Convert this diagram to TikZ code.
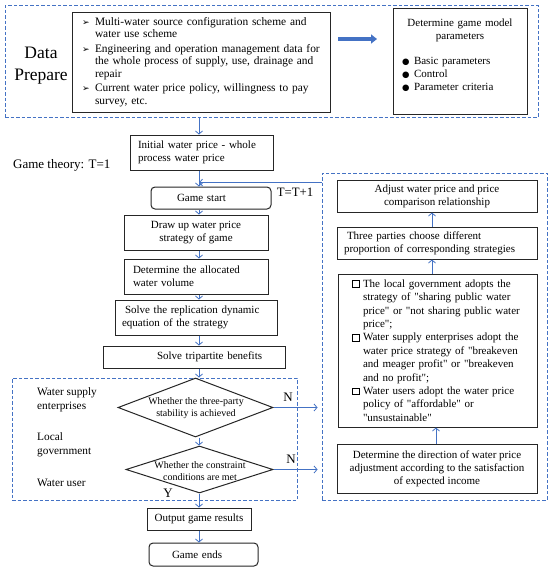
\documentclass[tikz,border=0pt]{standalone}
\usepackage{fontspec}
\setmainfont{Liberation Serif}
\newfontfamily\symf{DejaVu Sans}
\usetikzlibrary{shapes.geometric,arrows.meta,calc}
\definecolor{bl}{HTML}{4472C4}
\newcommand\dq{\XeTeXglyph\XeTeXcharglyph"22\relax}
\newcommand\mkarr{\makebox[13pt][l]{\symf\fontsize{9}{8}\selectfont ➢}}
\newcommand\mkdot{\makebox[12pt][l]{\symf\fontsize{8.5}{8}\selectfont ●}}
\newcommand\mksq{\makebox[11pt][l]{\setlength\fboxrule{1.1pt}\setlength\fboxsep{0pt}\raisebox{0.3pt}{\fbox{\rule{0pt}{5.5pt}\hspace{5.5pt}}}}}
\begin{document}
\begin{tikzpicture}[x=1pt,y=-1pt,
  font=\fontsize{11}{13}\selectfont,
  box/.style={draw=black!85, line width=1pt, rectangle, inner sep=0pt},
  rbox/.style={box, rounded corners=4pt},
  dbox/.style={draw=bl, line width=0.9pt, dash pattern=on 3.5pt off 2pt, rectangle, inner sep=0pt},
  dia/.style={draw=black!85, line width=1pt, diamond, inner sep=0pt},
  arr/.style={draw=bl, line width=0.8pt, -{Straight Barb[length=3pt,width=7pt]}},
  lbl/.style={inner sep=0pt, align=left, font=\fontsize{11.3}{14}\selectfont}
]
\useasboundingbox (0,0) rectangle (550,571);
\fill[white] (0,0) rectangle (550,571);
\coordinate (spine) at (199,0);

% ---------- data prepare ----------
\node[dbox, minimum width=533pt, minimum height=112pt] (dp) at (271.5,61) {};
\node[inner sep=0pt, align=center, font=\fontsize{17.5}{22}\selectfont] (dplbl) at (41,66) {Data\\Prepare};
\node[box, minimum width=258pt, minimum height=100pt, text width=238pt, align=left, font=\fontsize{11.4}{12.3}\selectfont] (src) at (201,62)
 {\mkarr Multi-water source configuration scheme and\\
  \hspace*{13pt}water use scheme\\[2.5pt]
  \mkarr Engineering and operation management data for\\
  \hspace*{13pt}the whole process of supply, use, drainage and\\
  \hspace*{13pt}repair\\[2.5pt]
  \mkarr Current water price policy, willingness to pay\\
  \hspace*{13pt}survey, etc.};
\node[box, minimum width=134pt, minimum height=106pt, text width=120pt, align=left] (par) at (460,61)
 {\makebox[120pt]{Determine game model}\\
  \makebox[120pt]{parameters}\\[12pt]
  \hspace*{2pt}\mkdot Basic parameters\\
  \hspace*{2pt}\mkdot Control\\
  \hspace*{2pt}\mkdot Parameter criteria\\
  \mbox{}};
\draw[line width=3.2pt, draw=bl, -{Triangle[length=6pt,width=9pt]}] (src.east -| 338,0) ++(0,-23) coordinate (ba) -- (377,39) coordinate (bb);

% ---------- main flow ----------
\node[inner sep=0pt, anchor=west, font=\fontsize{13}{15}\selectfont] (gt) at (13,165) {Game theory: T=1};
\node[box, minimum width=143pt, minimum height=35pt, text width=127pt, align=left] (init) at (201.5,152.5)
 {Initial water price - whole\\process water price};
\node[rbox, minimum width=120pt, minimum height=22pt, text width=120pt, align=left] (gs) at (211,198)
 {\hspace*{26pt}Game start};
\node[box, minimum width=144pt, minimum height=35pt, align=center] (du) at (196,232.5)
 {Draw up water price\\strategy of game};
\node[box, minimum width=144pt, minimum height=35pt, text width=126pt, align=left] (al) at (196,276.5)
 {Determine the allocated\\water volume};
\node[box, minimum width=162pt, minimum height=35pt, text width=148pt, align=left] (rp) at (196,317.5)
 {\hspace*{3pt}Solve the replication dynamic\\equation of the strategy};
\node[box, minimum width=182pt, minimum height=22pt, text width=182pt, align=left] (tb) at (194,357)
 {\hspace*{54pt}Solve tripartite benefits};

\node[dbox, minimum width=285pt, minimum height=122pt] (ld) at (154.5,439) {};
\node[dia, minimum width=155pt, minimum height=59pt] (d1) at (195.5,407.5) {};
\node[inner sep=0pt, align=center, font=\fontsize{10}{12}\selectfont] (d1t) at (196,408) {Whether the three-party\\stability is achieved};
\node[dia, minimum width=147pt, minimum height=47pt] (d2) at (199.5,469.5) {};
\node[inner sep=0pt, align=center, font=\fontsize{10}{12}\selectfont] (d2t) at (200,471) {Whether the constraint\\conditions are met};
\node[lbl, anchor=west] (ws) at (37,400) {Water supply\\enterprises};
\node[lbl, anchor=west] (lg) at (37,445) {Local\\government};
\node[lbl, anchor=west] (wu) at (37,483) {Water user};
\node[inner sep=0pt, font=\fontsize{13}{15}\selectfont] (n1) at (288,397) {N};
\node[inner sep=0pt, font=\fontsize{13}{15}\selectfont] (n2) at (291,459) {N};
\node[inner sep=0pt, font=\fontsize{13}{15}\selectfont] (y1) at (168,493) {Y};

\node[box, minimum width=104pt, minimum height=22pt, align=center] (out) at (199,519) {Output game results};
\node[rbox, minimum width=109pt, minimum height=23pt, text width=109pt, align=left] (ge) at (203.5,554.5)
 {\hspace*{23pt}Game ends};

% ---------- adjustment loop ----------
\node[dbox, minimum width=225pt, minimum height=327pt] (rd) at (434.5,336.5) {};
\node[box, minimum width=200pt, minimum height=32pt, align=center] (adj) at (437,196)
 {Adjust water price and price\\comparison relationship};
\node[box, minimum width=200pt, minimum height=32pt, text width=186pt, align=left] (thr) at (437,243)
 {\hspace*{3pt}Three parties choose different\\proportion of corresponding strategies};
\node[box, minimum width=199pt, minimum height=153pt, text width=171pt, align=left, font=\fontsize{11}{13.4}\selectfont] (big) at (437.5,350.5)
 {\mksq The local government adopts the\\
  \hspace*{11pt}strategy of \dq sharing public water\\
  \hspace*{11pt}price\dq\ or \dq not sharing public water\\
  \hspace*{11pt}price\dq;\\
  \mksq Water supply enterprises adopt the\\
  \hspace*{11pt}water price strategy of \dq breakeven\\
  \hspace*{11pt}and meager profit\dq\ or \dq breakeven\\
  \hspace*{11pt}and no profit\dq;\\
  \mksq Water users adopt the water price\\
  \hspace*{11pt}policy of \dq affordable\dq\ or\\
  \hspace*{11pt}\dq unsustainable\dq};
\node[box, minimum width=200pt, minimum height=49pt, align=center] (dir) at (437,468.5)
 {Determine the direction of water price\\adjustment according to the satisfaction\\of expected income};
\node[inner sep=0pt, font=\fontsize{12.8}{14}\selectfont] (tt) at (295,192) {T=T+1};

% ---------- connectors ----------
\draw[arr] (dp.south -| spine) -- (init.north -| spine);
\draw[arr] (init.south -| spine) -- (gs.north -| spine);
\coordinate (fb) at ($(rd.north west)+(0,10)$);
\draw[arr] (fb) -- (fb -| spine);
\draw[arr] (gs.south -| spine) -- (du.north -| spine);
\draw[arr] (du.south -| spine) -- (al.north -| spine);
\draw[arr] (al.south -| spine) -- (rp.north -| spine);
\draw[arr] (rp.south -| spine) -- (tb.north -| spine);
\draw[arr] (tb.south -| spine) -- (d1.north -| spine);
\draw[arr] (d1.south -| spine) -- (d2.north -| spine);
\draw[arr] (d2.south -| spine) -- (out.north -| spine);
\draw[arr] (out.south -| spine) -- (ge.north -| spine);
\draw[arr, shorten >=4pt] (d1.east) -- (d1.east -| rd.west);
\draw[arr, shorten >=4pt] (d2.east) -- (d2.east -| rd.west);
\coordinate (ux) at (432,0);
\draw[arr] (big.north -| ux) -- (thr.south -| ux);
\draw[arr] (thr.north -| ux) -- (adj.south -| ux);
\coordinate (ux2) at (436,0);
\draw[arr] (dir.north -| ux2) -- (big.south -| ux2);
\end{tikzpicture}
\end{document}
